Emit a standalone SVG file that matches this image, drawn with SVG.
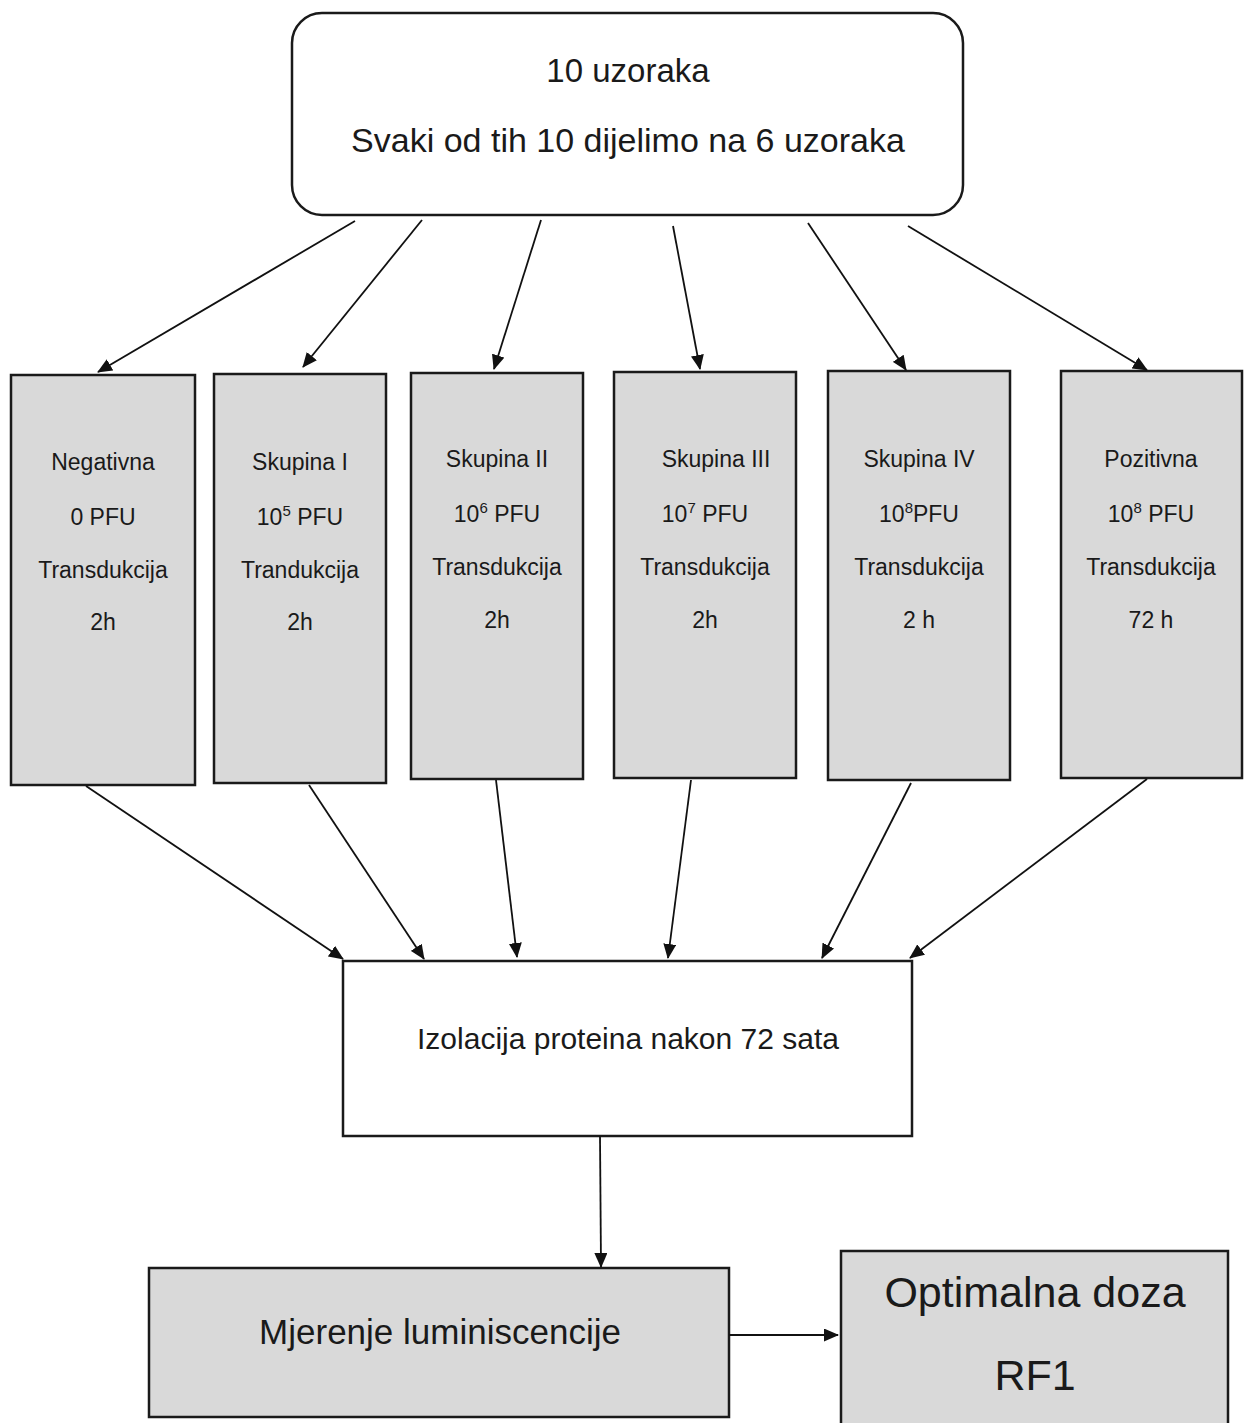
<svg xmlns="http://www.w3.org/2000/svg" width="1244" height="1423" viewBox="0 0 1244 1423">
<style>
text{font-family:"Liberation Sans",Arial,sans-serif;fill:#1a1a1a;text-anchor:middle}
.box{fill:#d9d9d9;stroke:#1a1a1a;stroke-width:2.5}
.wbox{fill:#ffffff;stroke:#1a1a1a;stroke-width:2.5}
.bt{font-size:23px}
.sup{font-size:15px}
.conn line{stroke:#111;stroke-width:1.8;fill:none;marker-end:url(#ah)}
</style>
<defs>
<marker id="ah" viewBox="0 0 15 13" refX="14" refY="6.5" markerWidth="15" markerHeight="13" markerUnits="userSpaceOnUse" orient="auto">
<path d="M0,0 L15,6.5 L0,13 z" fill="#111"/>
</marker>
</defs>
<rect width="1244" height="1423" fill="#ffffff"/>

<g id="top">
<rect x="292" y="13" width="671" height="202" rx="30" ry="30" class="wbox"/>
<text x="628" y="82" font-size="33">10 uzoraka</text>
<text x="628" y="152" font-size="34">Svaki od tih 10 dijelimo na 6 uzoraka</text>
</g>

<g id="negativna">
<rect x="11" y="375" width="184" height="410" class="box"/>
<text class="bt" x="103" y="470">Negativna</text>
<text class="bt" x="103" y="525">0 PFU</text>
<text class="bt" x="103" y="578">Transdukcija</text>
<text class="bt" x="103" y="630">2h</text>
</g>

<g id="skupina1">
<rect x="214" y="374" width="172" height="409" class="box"/>
<text class="bt" x="300" y="470">Skupina I</text>
<text class="bt" x="300" y="525">10<tspan class="sup" dy="-9">5</tspan><tspan dy="9"> PFU</tspan></text>
<text class="bt" x="300" y="578">Trandukcija</text>
<text class="bt" x="300" y="630">2h</text>
</g>

<g id="skupina2">
<rect x="411" y="373" width="172" height="406" class="box"/>
<text class="bt" x="497" y="467">Skupina II</text>
<text class="bt" x="497" y="522">10<tspan class="sup" dy="-9">6</tspan><tspan dy="9"> PFU</tspan></text>
<text class="bt" x="497" y="575">Transdukcija</text>
<text class="bt" x="497" y="628">2h</text>
</g>

<g id="skupina3">
<rect x="614" y="372" width="182" height="406" class="box"/>
<text class="bt" x="716" y="467">Skupina III</text>
<text class="bt" x="705" y="522">10<tspan class="sup" dy="-9">7</tspan><tspan dy="9"> PFU</tspan></text>
<text class="bt" x="705" y="575">Transdukcija</text>
<text class="bt" x="705" y="628">2h</text>
</g>

<g id="skupina4">
<rect x="828" y="371" width="182" height="409" class="box"/>
<text class="bt" x="919" y="467">Skupina IV</text>
<text class="bt" x="919" y="522">10<tspan class="sup" dy="-9">8</tspan><tspan dy="9">PFU</tspan></text>
<text class="bt" x="919" y="575">Transdukcija</text>
<text class="bt" x="919" y="628">2 h</text>
</g>

<g id="pozitivna">
<rect x="1061" y="371" width="181" height="407" class="box"/>
<text class="bt" x="1151" y="467">Pozitivna</text>
<text class="bt" x="1151" y="522">10<tspan class="sup" dy="-9">8</tspan><tspan dy="9"> PFU</tspan></text>
<text class="bt" x="1151" y="575">Transdukcija</text>
<text class="bt" x="1151" y="628">72 h</text>
</g>

<g id="izolacija">
<rect x="343" y="961" width="569" height="175" class="wbox"/>
<text x="628" y="1049" font-size="30">Izolacija proteina nakon 72 sata</text>
</g>

<g id="mjerenje">
<rect x="149" y="1268" width="580" height="149" class="box"/>
<text x="440" y="1344" font-size="35">Mjerenje luminiscencije</text>
</g>

<g id="optimalna">
<rect x="841" y="1251" width="387" height="180" class="box"/>
<text x="1035" y="1307" font-size="43">Optimalna doza</text>
<text x="1035" y="1390" font-size="43">RF1</text>
</g>

<g class="conn" id="connectors">
<line x1="355" y1="221" x2="98" y2="372"/>
<line x1="422" y1="220" x2="303" y2="367"/>
<line x1="541" y1="220" x2="494" y2="369"/>
<line x1="673" y1="226" x2="700" y2="369"/>
<line x1="808" y1="223" x2="906" y2="370"/>
<line x1="908" y1="226" x2="1147" y2="370"/>
<line x1="86" y1="786" x2="343" y2="959"/>
<line x1="309" y1="785" x2="424" y2="959"/>
<line x1="496" y1="780" x2="517" y2="957"/>
<line x1="691" y1="780" x2="668" y2="958"/>
<line x1="911" y1="783" x2="822" y2="958"/>
<line x1="1147" y1="779" x2="910" y2="958"/>
<line x1="600" y1="1136" x2="601" y2="1267"/>
<line x1="729" y1="1335" x2="838" y2="1335"/>
</g>
</svg>
